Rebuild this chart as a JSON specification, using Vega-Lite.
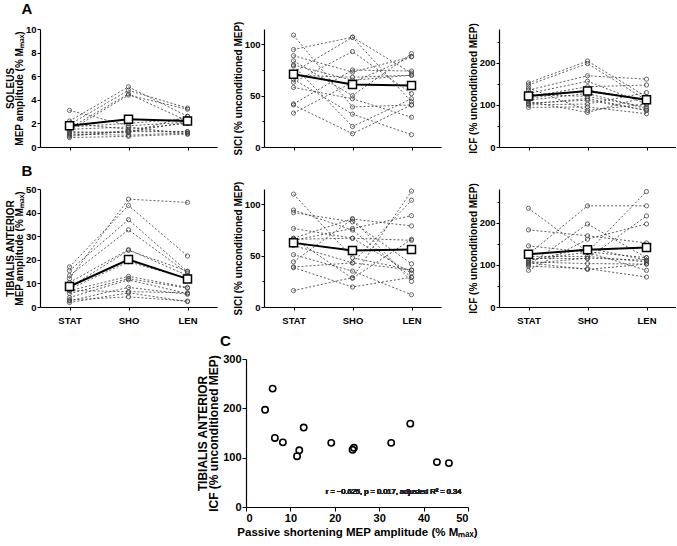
{
"$schema":"https://vega.github.io/schema/vega-lite/v6.json",
"padding":{"left":5,"top":2,"right":0,"bottom":0},
"background":"white",
"config":{
 "font":"Liberation Sans",
 "view":{"stroke":null},
 "axis":{"grid":false,"domainColor":"black","domainWidth":1.2,"tickColor":"black","tickWidth":1,"tickSize":3,"labelFont":"Liberation Sans","labelFontWeight":"bold","labelFontSize":9.5,"labelColor":"black","labelPadding":1,"titleFont":"Liberation Sans","titleFontWeight":"bold","titleFontSize":10,"titleColor":"black","titleLineHeight":9,"titlePadding":1},
 "title":{"font":"Liberation Sans","fontWeight":"bold","fontSize":15,"color":"black","anchor":"start"}
},
"datasets":{
 "subj":[
  {"m":"SOL","s":1,"c":"STAT","mep":3.1,"sici":109,"icf":152},{"m":"SOL","s":1,"c":"SHO","mep":1.8,"sici":39,"icf":204},{"m":"SOL","s":1,"c":"LEN","mep":2.1,"sici":41,"icf":119},
  {"m":"SOL","s":2,"c":"STAT","mep":2.2,"sici":95,"icf":147},{"m":"SOL","s":2,"c":"SHO","mep":5.1,"sici":107,"icf":198},{"m":"SOL","s":2,"c":"LEN","mep":2.6,"sici":72,"icf":111},
  {"m":"SOL","s":3,"c":"STAT","mep":1.9,"sici":89,"icf":135},{"m":"SOL","s":3,"c":"SHO","mep":4.8,"sici":73,"icf":169},{"m":"SOL","s":3,"c":"LEN","mep":3.3,"sici":88,"icf":161},
  {"m":"SOL","s":4,"c":"STAT","mep":1.6,"sici":84,"icf":127},{"m":"SOL","s":4,"c":"SHO","mep":4.5,"sici":50,"icf":156},{"m":"SOL","s":4,"c":"LEN","mep":2.2,"sici":91,"icf":102},
  {"m":"SOL","s":5,"c":"STAT","mep":1.4,"sici":79,"icf":119},{"m":"SOL","s":5,"c":"SHO","mep":4.4,"sici":20,"icf":143},{"m":"SOL","s":5,"c":"LEN","mep":3.2,"sici":47,"icf":147},
  {"m":"SOL","s":6,"c":"STAT","mep":2.0,"sici":73,"icf":111},{"m":"SOL","s":6,"c":"SHO","mep":1.5,"sici":107,"icf":127},{"m":"SOL","s":6,"c":"LEN","mep":2.0,"sici":44,"icf":91},
  {"m":"SOL","s":7,"c":"STAT","mep":1.2,"sici":70,"icf":104},{"m":"SOL","s":7,"c":"SHO","mep":1.3,"sici":68,"icf":111},{"m":"SOL","s":7,"c":"LEN","mep":1.3,"sici":70,"icf":87},
  {"m":"SOL","s":8,"c":"STAT","mep":1.0,"sici":63,"icf":100},{"m":"SOL","s":8,"c":"SHO","mep":1.3,"sici":93,"icf":102},{"m":"SOL","s":8,"c":"LEN","mep":2.1,"sici":52,"icf":129},
  {"m":"SOL","s":9,"c":"STAT","mep":0.8,"sici":58,"icf":94},{"m":"SOL","s":9,"c":"SHO","mep":0.9,"sici":47,"icf":95},{"m":"SOL","s":9,"c":"LEN","mep":1.1,"sici":29,"icf":79},
  {"m":"SOL","s":10,"c":"STAT","mep":1.3,"sici":42,"icf":140},{"m":"SOL","s":10,"c":"SHO","mep":1.2,"sici":75,"icf":87},{"m":"SOL","s":10,"c":"LEN","mep":2.6,"sici":74,"icf":102},
  {"m":"SOL","s":11,"c":"STAT","mep":1.1,"sici":41,"icf":108},{"m":"SOL","s":11,"c":"SHO","mep":1.0,"sici":13,"icf":82},{"m":"SOL","s":11,"c":"LEN","mep":1.2,"sici":41,"icf":119},
  {"m":"SOL","s":12,"c":"STAT","mep":1.7,"sici":33,"icf":115},{"m":"SOL","s":12,"c":"SHO","mep":2.0,"sici":63,"icf":135},{"m":"SOL","s":12,"c":"LEN","mep":2.4,"sici":88,"icf":111},
  {"m":"SOL","s":13,"c":"STAT","mep":0.9,"sici":66,"icf":125},{"m":"SOL","s":13,"c":"SHO","mep":1.4,"sici":32,"icf":120},{"m":"SOL","s":13,"c":"LEN","mep":1.3,"sici":12,"icf":95},
  {"m":"SOL","s":14,"c":"STAT","mep":1.5,"sici":80,"icf":102},{"m":"SOL","s":14,"c":"SHO","mep":1.7,"sici":65,"icf":115},{"m":"SOL","s":14,"c":"LEN","mep":1.1,"sici":70,"icf":87},
  {"m":"TA","s":1,"c":"STAT","mep":12,"sici":110,"icf":105},{"m":"TA","s":1,"c":"SHO","mep":45.7,"sici":48,"icf":89},{"m":"TA","s":1,"c":"LEN","mep":44.3,"sici":36,"icf":102},
  {"m":"TA","s":2,"c":"STAT","mep":17,"sici":94.5,"icf":97},{"m":"TA","s":2,"c":"SHO","mep":43,"sici":75,"icf":91},{"m":"TA","s":2,"c":"LEN","mep":21.6,"sici":29,"icf":71},
  {"m":"TA","s":3,"c":"STAT","mep":15.4,"sici":92,"icf":183},{"m":"TA","s":3,"c":"SHO","mep":37,"sici":83,"icf":169},{"m":"TA","s":3,"c":"LEN","mep":15,"sici":42,"icf":152},
  {"m":"TA","s":4,"c":"STAT","mep":13.3,"sici":76.5,"icf":111},{"m":"TA","s":4,"c":"SHO","mep":32.7,"sici":67,"icf":130},{"m":"TA","s":4,"c":"LEN","mep":14.4,"sici":33,"icf":274},
  {"m":"TA","s":5,"c":"STAT","mep":10.4,"sici":67,"icf":120},{"m":"TA","s":5,"c":"SHO","mep":24.3,"sici":86,"icf":120},{"m":"TA","s":5,"c":"LEN","mep":13.3,"sici":25,"icf":107},
  {"m":"TA","s":6,"c":"STAT","mep":8.3,"sici":65,"icf":103},{"m":"TA","s":6,"c":"SHO","mep":24,"sici":76.5,"icf":116},{"m":"TA","s":6,"c":"LEN","mep":15.2,"sici":89,"icf":111},
  {"m":"TA","s":7,"c":"STAT","mep":7.6,"sici":67,"icf":145},{"m":"TA","s":7,"c":"SHO","mep":19.2,"sici":28,"icf":130},{"m":"TA","s":7,"c":"LEN","mep":12,"sici":66,"icf":87},
  {"m":"TA","s":8,"c":"STAT","mep":6.9,"sici":51,"icf":87},{"m":"TA","s":8,"c":"SHO","mep":13,"sici":35,"icf":161},{"m":"TA","s":8,"c":"LEN","mep":8.3,"sici":12,"icf":197},
  {"m":"TA","s":9,"c":"STAT","mep":5.7,"sici":44,"icf":115},{"m":"TA","s":9,"c":"SHO","mep":12,"sici":85.7,"icf":115},{"m":"TA","s":9,"c":"LEN","mep":8,"sici":79,"icf":216},
  {"m":"TA","s":10,"c":"STAT","mep":4,"sici":39,"icf":107},{"m":"TA","s":10,"c":"SHO","mep":11.5,"sici":43,"icf":103},{"m":"TA","s":10,"c":"LEN","mep":5.7,"sici":104,"icf":102},
  {"m":"TA","s":11,"c":"STAT","mep":2.6,"sici":38.4,"icf":234},{"m":"TA","s":11,"c":"SHO","mep":8.3,"sici":19.5,"icf":131},{"m":"TA","s":11,"c":"LEN","mep":5.4,"sici":29,"icf":117},
  {"m":"TA","s":12,"c":"STAT","mep":7,"sici":16,"icf":110},{"m":"TA","s":12,"c":"SHO","mep":6.5,"sici":28.7,"icf":140},{"m":"TA","s":12,"c":"LEN","mep":6,"sici":113,"icf":111},
  {"m":"TA","s":13,"c":"STAT","mep":1.9,"sici":60,"icf":125},{"m":"TA","s":13,"c":"SHO","mep":6,"sici":43,"icf":240},{"m":"TA","s":13,"c":"LEN","mep":2.3,"sici":36,"icf":240},
  {"m":"TA","s":14,"c":"STAT","mep":3,"sici":66,"icf":100},{"m":"TA","s":14,"c":"SHO","mep":4.3,"sici":67,"icf":197},{"m":"TA","s":14,"c":"LEN","mep":2.5,"sici":65,"icf":117}
 ],
 "mean":[
  {"m":"SOL","c":"STAT","mep":1.8,"sici":71,"icf":121},{"m":"SOL","c":"SHO","mep":2.35,"sici":61,"icf":133},{"m":"SOL","c":"LEN","mep":2.2,"sici":60,"icf":112},
  {"m":"TA","c":"STAT","mep":8.7,"sici":62.5,"icf":125},{"m":"TA","c":"SHO","mep":20.1,"sici":55,"icf":136},{"m":"TA","c":"LEN","mep":11.9,"sici":56,"icf":141}
 ]
},
"spacing":9,
"vconcat":[
 {"title":{"text":"A","dx":16,"offset":4},"spacing":16,"hconcat":[
  {"width":177,"height":118,
   "encoding":{"x":{"field":"c","type":"ordinal","scale":{"type":"point","domain":["STAT","SHO","LEN"],"padding":0.5},"axis":{"labels":false,"title":null}},
     "y":{"field":"mep","type":"quantitative","scale":{"domain":[0,10],"nice":false},"axis":{"values":[0,2,4,6,8,10],"title":["SOLEUS","MEP amplitude (% Mₘₐₓ)"]}}},
   "layer":[
    {"data":{"name":"subj"},"transform":[{"filter":"datum.m==='SOL'"}],"mark":{"type":"line","strokeDash":[2,2],"strokeWidth":0.8,"color":"#333"},"encoding":{"detail":{"field":"s"}}},
    {"data":{"name":"subj"},"transform":[{"filter":"datum.m==='SOL'"}],"mark":{"type":"point","shape":"circle","filled":false,"size":18,"strokeWidth":0.8,"color":"#444","opacity":1}},
    {"data":{"name":"mean"},"transform":[{"filter":"datum.m==='SOL'"}],"mark":{"type":"line","strokeWidth":2,"color":"black"}},
    {"data":{"name":"mean"},"transform":[{"filter":"datum.m==='SOL'"}],"mark":{"type":"point","shape":"square","filled":true,"fill":"white","stroke":"black","strokeWidth":1.5,"size":64,"opacity":1}}
   ]},
  {"spacing":27,"hconcat":[
   {"width":177,"height":118,
    "encoding":{"x":{"field":"c","type":"ordinal","scale":{"type":"point","domain":["STAT","SHO","LEN"],"padding":0.5},"axis":{"labels":false,"title":null}},
      "y":{"field":"sici","type":"quantitative","scale":{"domain":[0,115],"nice":false},"axis":{"values":[0,25,50,75,100],"labelExpr":"datum.value % 50 === 0 ? datum.label : ''","tickSize":{"condition":{"test":"datum.value % 50 !== 0","value":2},"value":3},"title":"SICI (% unconditioned MEP)"}}},
    "layer":[
     {"data":{"name":"subj"},"transform":[{"filter":"datum.m==='SOL'"}],"mark":{"type":"line","strokeDash":[2,2],"strokeWidth":0.8,"color":"#333"},"encoding":{"detail":{"field":"s"}}},
     {"data":{"name":"subj"},"transform":[{"filter":"datum.m==='SOL'"}],"mark":{"type":"point","shape":"circle","filled":false,"size":18,"strokeWidth":0.8,"color":"#444","opacity":1}},
     {"data":{"name":"mean"},"transform":[{"filter":"datum.m==='SOL'"}],"mark":{"type":"line","strokeWidth":2,"color":"black"}},
     {"data":{"name":"mean"},"transform":[{"filter":"datum.m==='SOL'"}],"mark":{"type":"point","shape":"square","filled":true,"fill":"white","stroke":"black","strokeWidth":1.5,"size":64,"opacity":1}}
    ]},
   {"width":177,"height":118,
    "encoding":{"x":{"field":"c","type":"ordinal","scale":{"type":"point","domain":["STAT","SHO","LEN"],"padding":0.5},"axis":{"labels":false,"title":null}},
      "y":{"field":"icf","type":"quantitative","scale":{"domain":[0,280],"nice":false},"axis":{"values":[0,50,100,150,200,250],"labelExpr":"datum.value % 100 === 0 ? datum.label : ''","tickSize":{"condition":{"test":"datum.value % 100 !== 0","value":2},"value":3},"title":"ICF (% unconditioned MEP)"}}},
    "layer":[
     {"data":{"name":"subj"},"transform":[{"filter":"datum.m==='SOL'"}],"mark":{"type":"line","strokeDash":[2,2],"strokeWidth":0.8,"color":"#333"},"encoding":{"detail":{"field":"s"}}},
     {"data":{"name":"subj"},"transform":[{"filter":"datum.m==='SOL'"}],"mark":{"type":"point","shape":"circle","filled":false,"size":18,"strokeWidth":0.8,"color":"#444","opacity":1}},
     {"data":{"name":"mean"},"transform":[{"filter":"datum.m==='SOL'"}],"mark":{"type":"line","strokeWidth":2,"color":"black"}},
     {"data":{"name":"mean"},"transform":[{"filter":"datum.m==='SOL'"}],"mark":{"type":"point","shape":"square","filled":true,"fill":"white","stroke":"black","strokeWidth":1.5,"size":64,"opacity":1}}
    ]}
  ]}
 ]},
 {"title":{"text":"B","dx":16,"offset":2},"spacing":16,"hconcat":[
  {"width":177,"height":118,
   "encoding":{"x":{"field":"c","type":"ordinal","scale":{"type":"point","domain":["STAT","SHO","LEN"],"padding":0.5},"axis":{"labelAngle":0,"labelPadding":5,"title":null}},
     "y":{"field":"mep","type":"quantitative","scale":{"domain":[0,50],"nice":false},"axis":{"values":[0,10,20,30,40,50],"title":["TIBIALIS ANTERIOR","MEP amplitude (% Mₘₐₓ)"]}}},
   "layer":[
    {"data":{"name":"subj"},"transform":[{"filter":"datum.m==='TA'"}],"mark":{"type":"line","strokeDash":[2,2],"strokeWidth":0.8,"color":"#333"},"encoding":{"detail":{"field":"s"}}},
    {"data":{"name":"subj"},"transform":[{"filter":"datum.m==='TA'"}],"mark":{"type":"point","shape":"circle","filled":false,"size":18,"strokeWidth":0.8,"color":"#444","opacity":1}},
    {"data":{"name":"mean"},"transform":[{"filter":"datum.m==='TA'"}],"mark":{"type":"line","strokeWidth":2,"color":"black"}},
    {"data":{"name":"mean"},"transform":[{"filter":"datum.m==='TA'"}],"mark":{"type":"point","shape":"square","filled":true,"fill":"white","stroke":"black","strokeWidth":1.5,"size":64,"opacity":1}}
   ]},
  {"spacing":27,"hconcat":[
   {"width":177,"height":118,
    "encoding":{"x":{"field":"c","type":"ordinal","scale":{"type":"point","domain":["STAT","SHO","LEN"],"padding":0.5},"axis":{"labelAngle":0,"labelPadding":5,"title":null}},
      "y":{"field":"sici","type":"quantitative","scale":{"domain":[0,115],"nice":false},"axis":{"values":[0,25,50,75,100],"labelExpr":"datum.value % 50 === 0 ? datum.label : ''","tickSize":{"condition":{"test":"datum.value % 50 !== 0","value":2},"value":3},"title":"SICI (% unconditioned MEP)"}}},
    "layer":[
     {"data":{"name":"subj"},"transform":[{"filter":"datum.m==='TA'"}],"mark":{"type":"line","strokeDash":[2,2],"strokeWidth":0.8,"color":"#333"},"encoding":{"detail":{"field":"s"}}},
     {"data":{"name":"subj"},"transform":[{"filter":"datum.m==='TA'"}],"mark":{"type":"point","shape":"circle","filled":false,"size":18,"strokeWidth":0.8,"color":"#444","opacity":1}},
     {"data":{"name":"mean"},"transform":[{"filter":"datum.m==='TA'"}],"mark":{"type":"line","strokeWidth":2,"color":"black"}},
     {"data":{"name":"mean"},"transform":[{"filter":"datum.m==='TA'"}],"mark":{"type":"point","shape":"square","filled":true,"fill":"white","stroke":"black","strokeWidth":1.5,"size":64,"opacity":1}}
    ]},
   {"width":177,"height":118,
    "encoding":{"x":{"field":"c","type":"ordinal","scale":{"type":"point","domain":["STAT","SHO","LEN"],"padding":0.5},"axis":{"labelAngle":0,"labelPadding":5,"title":null}},
      "y":{"field":"icf","type":"quantitative","scale":{"domain":[0,280],"nice":false},"axis":{"values":[0,50,100,150,200,250],"labelExpr":"datum.value % 100 === 0 ? datum.label : ''","tickSize":{"condition":{"test":"datum.value % 100 !== 0","value":2},"value":3},"title":"ICF (% unconditioned MEP)"}}},
    "layer":[
     {"data":{"name":"subj"},"transform":[{"filter":"datum.m==='TA'"}],"mark":{"type":"line","strokeDash":[2,2],"strokeWidth":0.8,"color":"#333"},"encoding":{"detail":{"field":"s"}}},
     {"data":{"name":"subj"},"transform":[{"filter":"datum.m==='TA'"}],"mark":{"type":"point","shape":"circle","filled":false,"size":18,"strokeWidth":0.8,"color":"#444","opacity":1}},
     {"data":{"name":"mean"},"transform":[{"filter":"datum.m==='TA'"}],"mark":{"type":"line","strokeWidth":2,"color":"black"}},
     {"data":{"name":"mean"},"transform":[{"filter":"datum.m==='TA'"}],"mark":{"type":"point","shape":"square","filled":true,"fill":"white","stroke":"black","strokeWidth":1.5,"size":64,"opacity":1}}
    ]}
  ]}
 ]},
 {"spacing":0,"hconcat":[
  {"width":156,"height":10,"data":{"values":[{}]},"mark":{"type":"point","opacity":0}},
  {"width":222,"height":148,
   "title":{"text":"C","frame":"group","dx":-26,"offset":4},
   "data":{"name":"subj"},
   "transform":[{"filter":"datum.m==='TA' && datum.c==='SHO'"}],
   "layer":[
    {"mark":{"type":"point","shape":"circle","filled":false,"size":40,"strokeWidth":1.6,"color":"black","opacity":1},
     "encoding":{"x":{"field":"mep","type":"quantitative","scale":{"domain":[0,50],"nice":false},"axis":{"values":[0,10,20,30,40,50],"labelFontSize":11,"titleFontSize":11.5,"tickSize":4,"labelPadding":1,"title":"Passive shortening MEP amplitude (% Mₘₐₓ)","titlePadding":3}},
       "y":{"field":"icf","type":"quantitative","scale":{"domain":[0,300],"nice":false},"axis":{"values":[0,100,200,300],"labelFontSize":11,"titleFontSize":12,"titleLineHeight":11,"tickSize":4,"labelPadding":1,"titlePadding":2,"title":["TIBIALIS ANTERIOR","ICF (% unconditioned MEP)"]}}}},
    {"mark":{"type":"text","align":"right","baseline":"middle","fontSize":7.5,"fontWeight":"normal","font":"Liberation Sans","color":"#222"},
     "encoding":{"x":{"datum":48.5},"y":{"datum":30},"text":{"value":"r = −0.625, p = 0.017, adjusted R² = 0.34"}}}
   ]}
 ]}
]
}
